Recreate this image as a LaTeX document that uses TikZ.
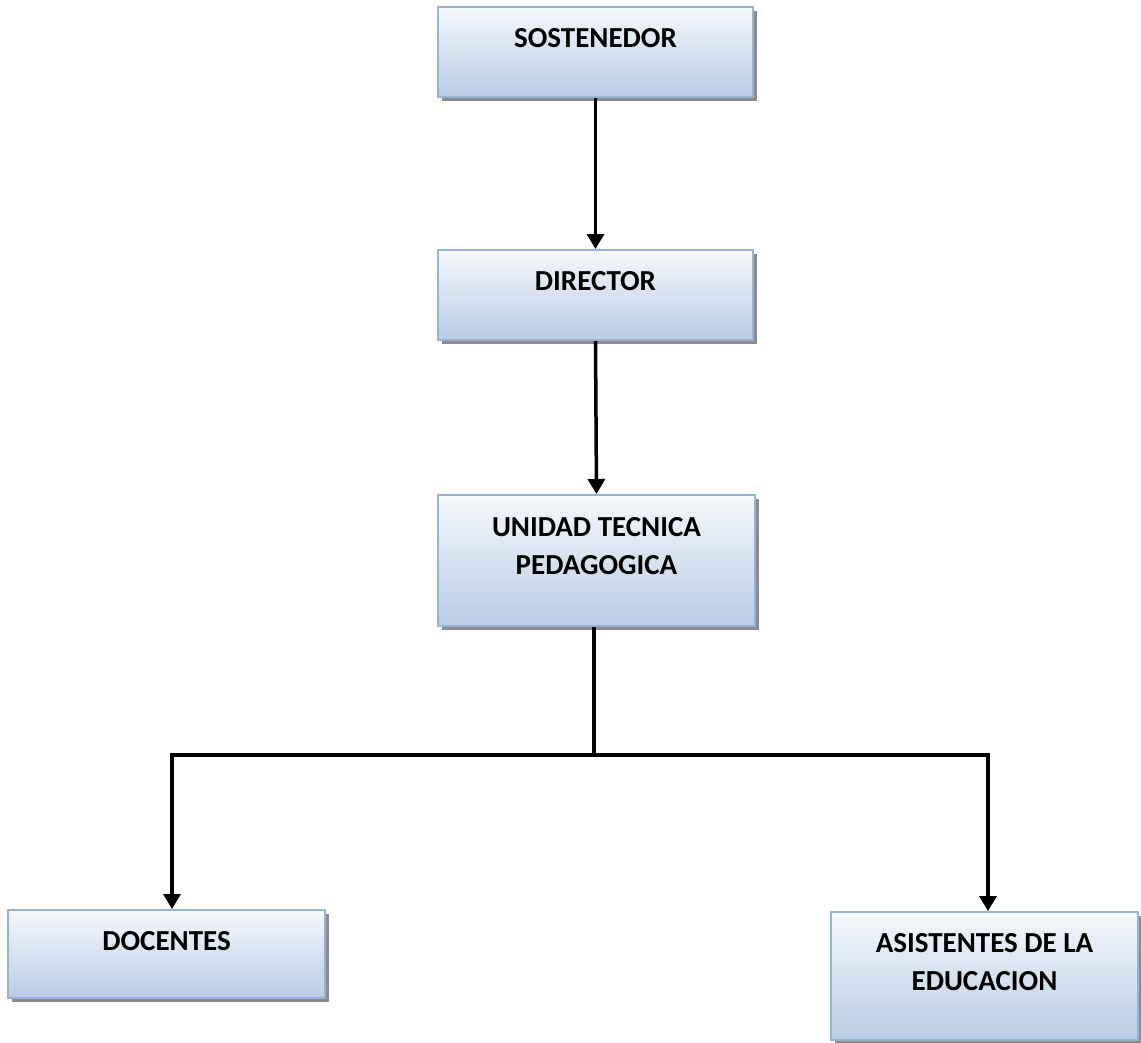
\documentclass[tikz,border=0pt]{standalone}
\usepackage{fontspec}
\setmainfont{Carlito}
\usetikzlibrary{arrows.meta,shadows}
\definecolor{boxtop}{HTML}{F5F8FC}
\definecolor{boxbot}{HTML}{B8CCE4}
\definecolor{boxline}{HTML}{95B3D7}
\definecolor{shade}{HTML}{8C8C8C}
\tikzset{
  orgbox/.style={rectangle, draw=boxline, line width=2pt, top color=boxtop, bottom color=boxbot,
    inner sep=0pt, drop shadow={shadow xshift=3.5pt, shadow yshift=-3.5pt, fill=shade, opacity=1}},
  boxtext/.style={font=\fontsize{29}{38}\selectfont\bfseries, align=center, inner sep=0pt},
  conn/.style={line width=3.5pt, -{Triangle[length=15pt,width=17pt]}},
  plain/.style={line width=3.5pt}
}
\begin{document}
\begin{tikzpicture}[x=1pt,y=-1pt]
\useasboundingbox (0,0) rectangle (1141,1042);
% boxes
\node[orgbox, minimum width=315pt, minimum height=90pt] (sost) at (595.5,52) {};
\node[orgbox, minimum width=315pt, minimum height=90pt] (dir) at (595.5,295) {};
\node[orgbox, minimum width=317pt, minimum height=131pt] (utp) at (596.5,560.5) {};
\node[orgbox, minimum width=317pt, minimum height=88pt] (doc) at (166.5,954) {};
\node[orgbox, minimum width=307pt, minimum height=128pt] (asis) at (984.5,976) {};
% texts
\node[boxtext] (sostT) at (595.5,38) {SOSTENEDOR};
\node[boxtext] (dirT) at (595.5,281) {DIRECTOR};
\node[boxtext] (utpT) at (596.5,546) {UNIDAD TECNICA\\PEDAGOGICA};
\node[boxtext] (docT) at (166.5,941) {DOCENTES};
\node[boxtext] (asisT) at (984.5,962) {ASISTENTES DE LA\\EDUCACION};
% connectors
\coordinate (junc) at (594,755);
\coordinate (jl) at (172,755);
\coordinate (jr) at (988,755);
\draw[conn] (sost.south) -- (dir.north);
\draw[conn] (dir.south) -- (utp.north);
\draw[plain] (utp.south -| junc) -- (junc);
\draw[plain, line cap=rect] (jl) -- (jr);
\draw[conn] (jl) -- (jl |- doc.north);
\draw[conn] (jr) -- (jr |- asis.north);
\end{tikzpicture}
\end{document}
